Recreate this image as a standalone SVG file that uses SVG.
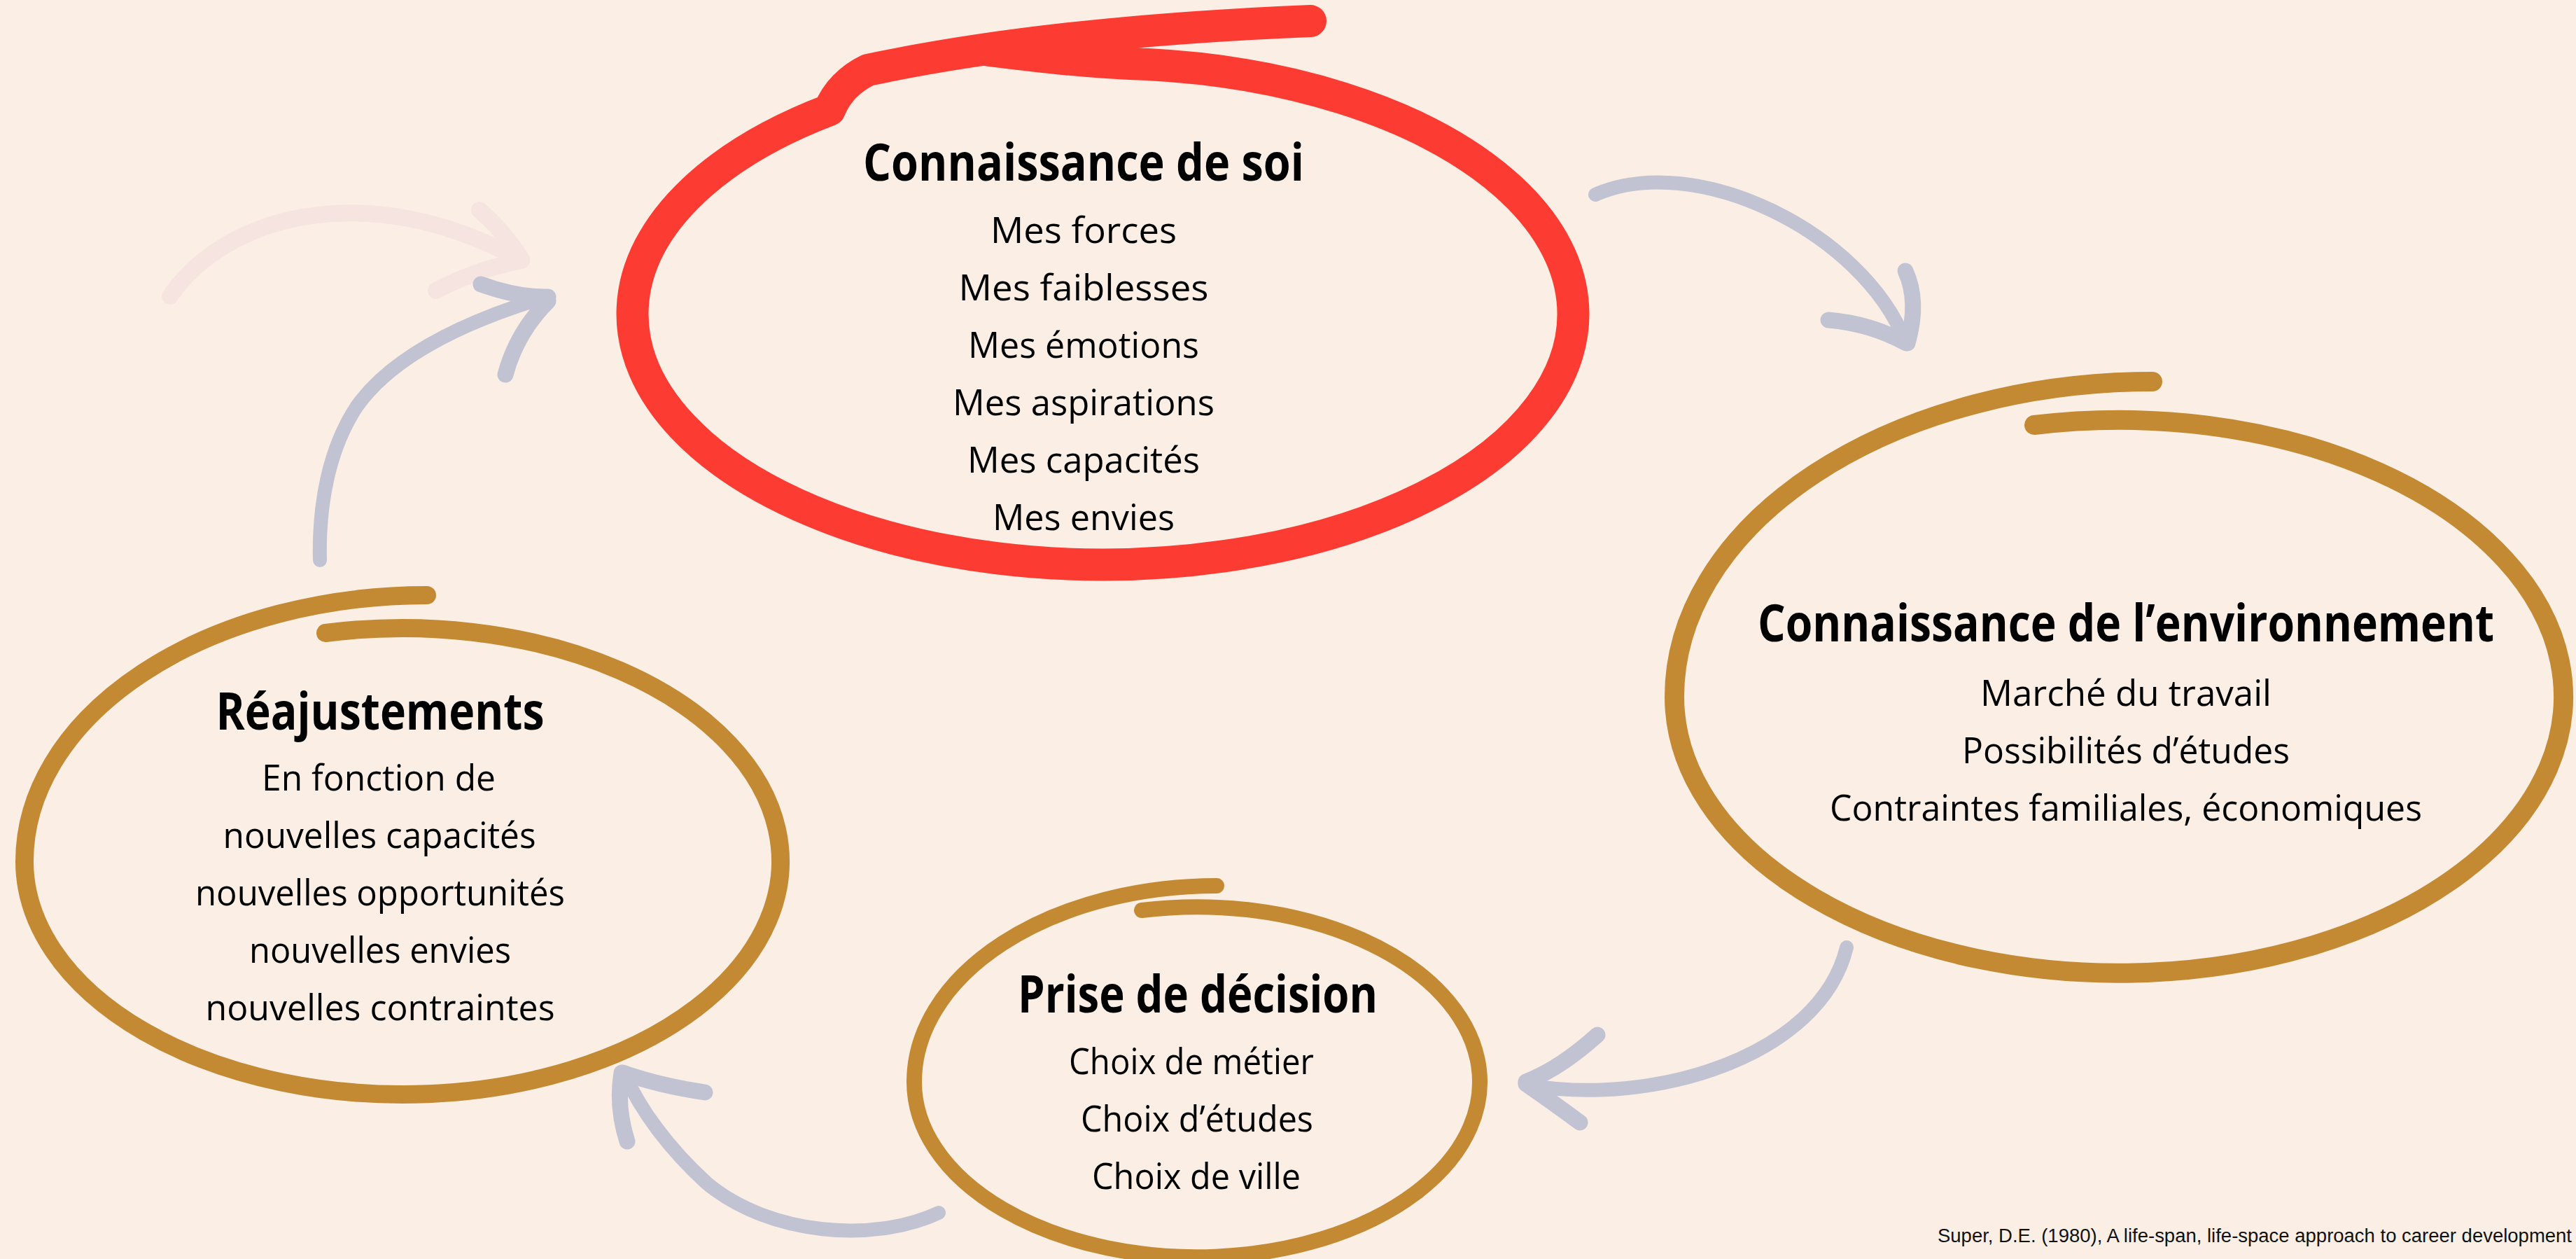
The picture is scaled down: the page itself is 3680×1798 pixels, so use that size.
<svg xmlns="http://www.w3.org/2000/svg" width="3680" height="1798" viewBox="0 0 3680 1798">
<style>
.bg{fill:#FBEFE5}
.red{fill:none;stroke:#FC3B32;stroke-width:46;stroke-linecap:round;stroke-linejoin:round}
.gold{fill:none;stroke:#C48A33;stroke-linecap:round;stroke-linejoin:round}
.arr{fill:none;stroke:#C1C3D3;stroke-width:20;stroke-linecap:round;stroke-linejoin:round}
.head{fill:none;stroke:#C1C3D3;stroke-width:23;stroke-linecap:round;stroke-linejoin:round}
.pink{fill:none;stroke:#F6E4E0;stroke-width:24;stroke-linecap:round;stroke-linejoin:round}
.t{font-family:"Open Sans","Liberation Sans",sans-serif;fill:#000;text-anchor:middle}
.h{font-size:73px;font-weight:bold}
.i{font-size:52px}
.cite{font-family:"Liberation Sans",Arial,sans-serif;font-size:27px;fill:#111}
</style>
<rect class="bg" x="0" y="0" width="3680" height="1798"/>

<g id="connectors">
  <g id="arrow-faded">
    <path class="pink" d="M243 423 C320 310 520 250 742 370"/>
    <path class="pink" d="M685 300 Q720 330 745 370"/>
    <path class="pink" d="M623 415 Q680 385 745 372"/>
  </g>
  <g id="arrow-soi-env">
    <path class="arr" d="M2279 278 C2420 215 2660 330 2722 488"/>
    <path class="head" d="M2612 457 Q2672 462 2723 490"/>
    <path class="head" d="M2722 387 Q2742 430 2725 490"/>
  </g>
  <g id="arrow-env-decision">
    <path class="arr" d="M2638 1353 C2600 1510 2360 1580 2185 1550"/>
    <path class="head" d="M2282 1478 Q2230 1525 2180 1545"/>
    <path class="head" d="M2257 1603 Q2215 1572 2180 1548"/>
  </g>
  <g id="arrow-decision-reajust">
    <path class="arr" d="M1341 1732 C1250 1775 1100 1765 1010 1690 C955 1640 915 1585 893 1536"/>
    <path class="head" d="M1007 1560 Q940 1550 890 1532"/>
    <path class="head" d="M896 1630 Q880 1580 888 1532"/>
  </g>
  <g id="arrow-reajust-soi">
    <path class="arr" d="M457 800 C455 720 470 640 510 580 C560 510 660 460 780 424"/>
    <path class="head" d="M687 406 Q740 425 783 424"/>
    <path class="head" d="M722 535 Q738 475 783 430"/>
  </g>
</g>

<g id="node-soi">
  <path class="red" d="M1872 30 Q1500 45 1240 100 C1215 112 1195 132 1185 157 A672 358 0 1 0 1640 92 C1560 90 1480 80 1406 71"/>
  <text class="t h" x="1548" y="258" textLength="630" lengthAdjust="spacingAndGlyphs">Connaissance de soi</text>
  <text class="t i" x="1548" y="347" textLength="266" lengthAdjust="spacingAndGlyphs">Mes forces</text>
  <text class="t i" x="1548" y="429" textLength="357" lengthAdjust="spacingAndGlyphs">Mes faiblesses</text>
  <text class="t i" x="1548" y="511" textLength="330" lengthAdjust="spacingAndGlyphs">Mes émotions</text>
  <text class="t i" x="1548" y="593" textLength="374" lengthAdjust="spacingAndGlyphs">Mes aspirations</text>
  <text class="t i" x="1548" y="675" textLength="332" lengthAdjust="spacingAndGlyphs">Mes capacités</text>
  <text class="t i" x="1548" y="757" textLength="260" lengthAdjust="spacingAndGlyphs">Mes envies</text>
</g>

<g id="node-env">
  <path class="gold" stroke-width="28" d="M2906 607 A635 395 0 1 1 2392 995 A683 450 0 0 1 3075 545"/>
  <text class="t h" x="3037" y="916" textLength="1052" lengthAdjust="spacingAndGlyphs">Connaissance de l’environnement</text>
  <text class="t i" x="3037" y="1008" textLength="416" lengthAdjust="spacingAndGlyphs">Marché du travail</text>
  <text class="t i" x="3037" y="1090" textLength="468" lengthAdjust="spacingAndGlyphs">Possibilités d’études</text>
  <text class="t i" x="3037" y="1172" textLength="846" lengthAdjust="spacingAndGlyphs">Contraintes familiales, économiques</text>
</g>

<g id="node-decision">
  <path class="gold" stroke-width="22" d="M1631 1300 A404 250 0 1 1 1306 1545 A432 280 0 0 1 1738 1265"/>
  <text class="t h" x="1711" y="1446" textLength="514" lengthAdjust="spacingAndGlyphs">Prise de décision</text>
  <text class="t i" x="1702" y="1534" textLength="350" lengthAdjust="spacingAndGlyphs">Choix de métier</text>
  <text class="t i" x="1710" y="1616" textLength="332" lengthAdjust="spacingAndGlyphs">Choix d’études</text>
  <text class="t i" x="1709" y="1698" textLength="298" lengthAdjust="spacingAndGlyphs">Choix de ville</text>
</g>

<g id="node-reajust">
  <path class="gold" stroke-width="26" d="M465 904 A540 333 0 1 1 35 1230 A575 380 0 0 1 610 850"/>
  <text class="t h" x="543" y="1042" textLength="469" lengthAdjust="spacingAndGlyphs">Réajustements</text>
  <text class="t i" x="541" y="1129" textLength="334" lengthAdjust="spacingAndGlyphs">En fonction de</text>
  <text class="t i" x="542" y="1211" textLength="447" lengthAdjust="spacingAndGlyphs">nouvelles capacités</text>
  <text class="t i" x="543" y="1293" textLength="528" lengthAdjust="spacingAndGlyphs">nouvelles opportunités</text>
  <text class="t i" x="543" y="1375" textLength="374" lengthAdjust="spacingAndGlyphs">nouvelles envies</text>
  <text class="t i" x="543" y="1457" textLength="499" lengthAdjust="spacingAndGlyphs">nouvelles contraintes</text>
</g>

<g id="citation">
  <text class="cite" x="2768" y="1774" textLength="906" lengthAdjust="spacingAndGlyphs">Super, D.E. (1980), A life-span, life-space approach to career development</text>
</g>
</svg>
